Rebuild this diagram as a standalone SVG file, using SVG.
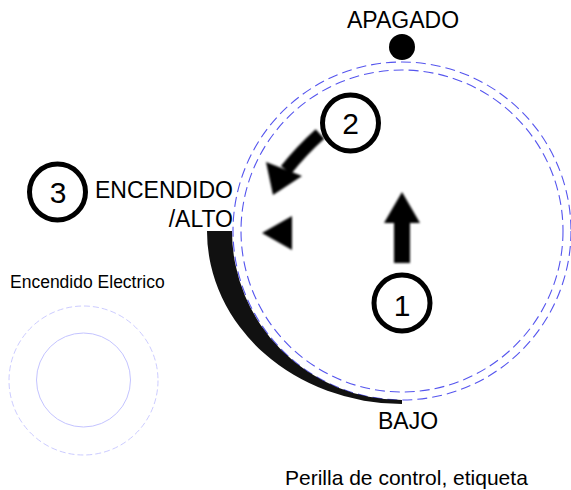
<svg xmlns="http://www.w3.org/2000/svg" width="571" height="490" viewBox="0 0 571 490">
<style>
text{font-family:"Liberation Sans",Arial,sans-serif;fill:#000}
.lbl{font-size:23px}
.num{font-size:30px;text-anchor:middle}
.ring{fill:none;stroke:#000;stroke-width:5}
.dash{fill:none;stroke:#5555ee;stroke-width:1.1;stroke-dasharray:10 5}
.blk{fill:#000}
</style>
<defs>
<filter id="soft" x="-20%" y="-20%" width="140%" height="140%"><feGaussianBlur stdDeviation="0.8"/></filter>
</defs>
<g id="dial">
<circle class="dash" cx="402" cy="231" r="169"/>
<circle class="dash" cx="402" cy="231" r="161"/>
<path d="M207 231 A195 173 0 0 0 402 404 L402 400 A170 169 0 0 1 232 231 Z" fill="#111"/>
</g>
<g id="apagado">
<circle cx="402" cy="47" r="13" class="blk"/>
<text class="lbl" x="403" y="28" text-anchor="middle">APAGADO</text>
</g>
<g id="bajo"><text class="lbl" x="408" y="429" text-anchor="middle">BAJO</text></g>
<g id="encendido">
<text class="lbl" x="233" y="198" text-anchor="end">ENCENDIDO</text>
<text class="lbl" x="233" y="227" text-anchor="end">/ALTO</text>
</g>
<g id="step1">
<circle class="ring" cx="402" cy="303" r="28"/>
<text class="num" x="402" y="316">1</text>
</g>
<g id="step2">
<circle class="ring" cx="350.5" cy="123" r="28"/>
<text class="num" x="350.5" y="134">2</text>
</g>
<g id="step3">
<circle class="ring" cx="57.5" cy="192" r="28"/>
<text class="num" x="58" y="203">3</text>
</g>
<g id="connectors" filter="url(#soft)">
<path class="blk" d="M402 192 L420 223 L410 223 L410 263 L394 263 L394 223 L384 223 Z"/>
<path class="blk" d="M262 233 L292 216 L292 250 Z"/>
<path d="M320 134 Q302 150 286 170" fill="none" stroke="#000" stroke-width="13"/>
<path class="blk" d="M273 195 L266 162 L302 176 Z"/>
</g>
<g id="electrico">
<text x="10" y="288" style="font-size:17.5px">Encendido Electrico</text>
<circle cx="83.5" cy="380.5" r="74.5" fill="none" stroke="#ccccff" stroke-width="1" stroke-dasharray="6 3"/>
<circle cx="83.5" cy="380" r="47" fill="none" stroke="#c4c4ff" stroke-width="1"/>
</g>
<g id="caption"><text x="285" y="485" style="font-size:21px">Perilla de control, etiqueta</text></g>
</svg>
